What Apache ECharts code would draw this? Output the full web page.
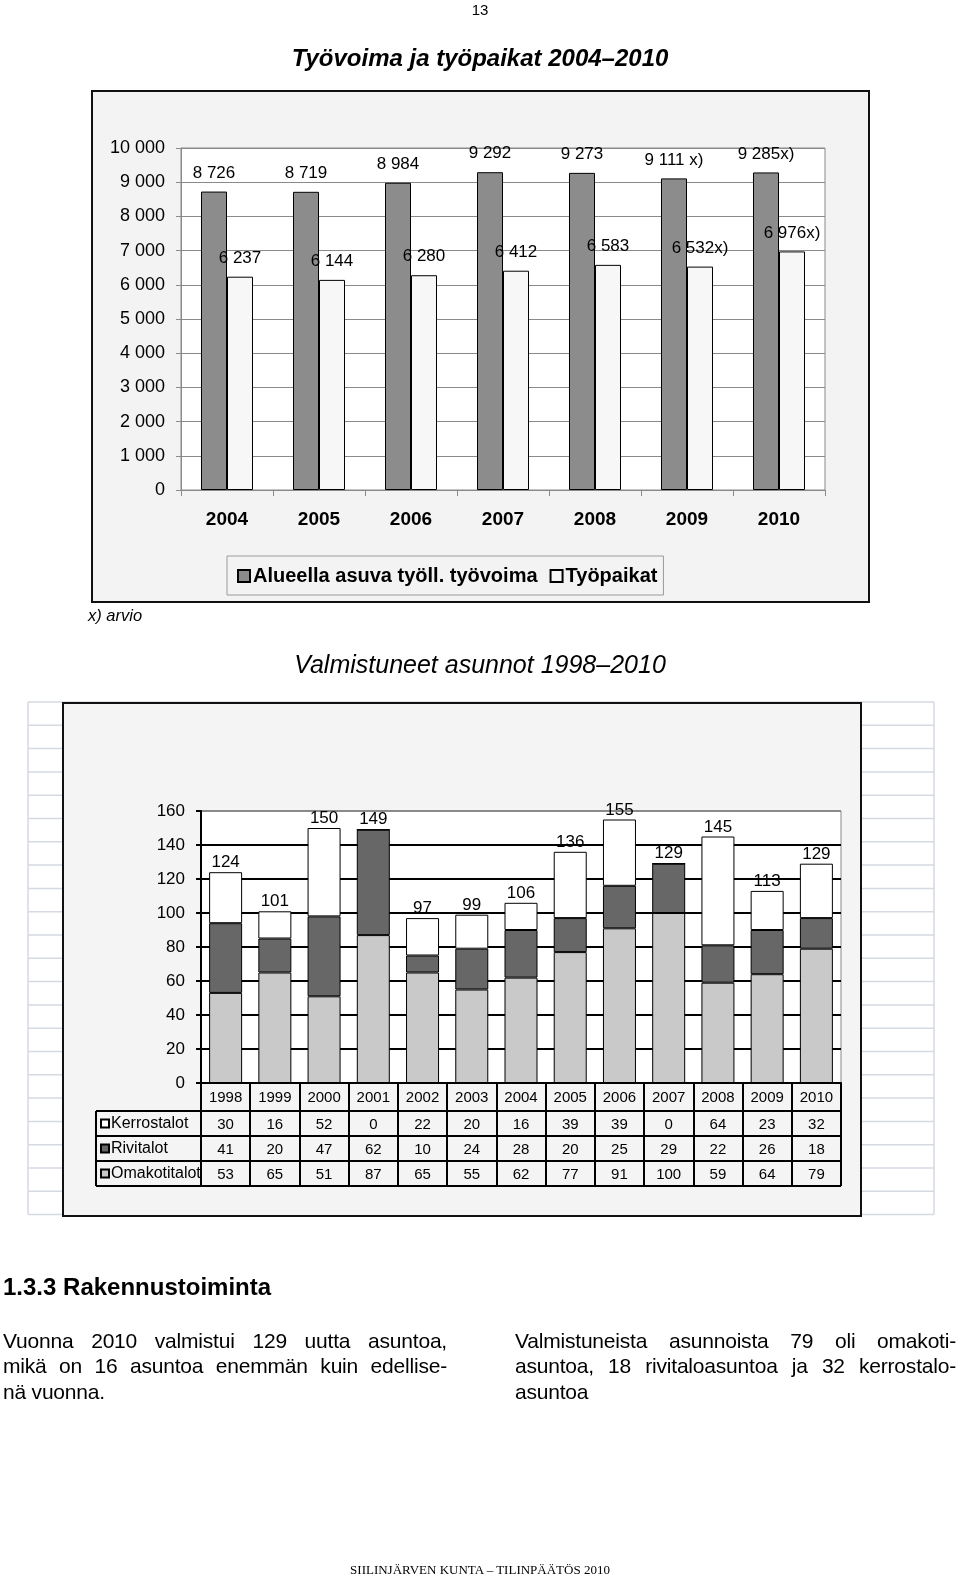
<!DOCTYPE html>
<html>
<head>
<meta charset="utf-8">
<script src="https://cdn.jsdelivr.net/npm/echarts@6/dist/echarts.min.js"></script>
<style>
  html, body { margin: 0; padding: 0; background: #fff; }
  body { width: 960px; height: 1581px; position: relative; overflow: hidden; font-family: "Liberation Sans", Arial, sans-serif; color: #000; }
  #chart { position: absolute; left: 0; top: 0; width: 960px; height: 1581px; }
  .t { position: absolute; white-space: nowrap; z-index: 2; line-height: 1; }
  .col { position: absolute; z-index: 2; font-size: 21px; line-height: 25.3px; letter-spacing: -0.2px; }
  .ln { text-align: justify; text-align-last: justify; white-space: nowrap; }
  .ln.last { text-align-last: left; }
</style>
</head>
<body>
<div id="chart"></div>
<div class="t" style="left:0;width:960px;text-align:center;top:2px;font-size:15px;">13</div>
<div class="t" style="left:0;width:960px;text-align:center;top:46px;font-size:24px;font-weight:bold;font-style:italic;">Työvoima ja työpaikat 2004–2010</div>
<div class="t" style="left:88px;top:607px;font-size:16.5px;font-style:italic;">x) arvio</div>
<div class="t" style="left:0;width:960px;text-align:center;top:652px;font-size:25px;font-style:italic;">Valmistuneet asunnot 1998–2010</div>
<div class="t" style="left:3px;top:1275px;font-size:24px;font-weight:bold;">1.3.3 Rakennustoiminta</div>
<div class="col" style="left:3px;top:1328px;width:444px;">
  <div class="ln">Vuonna 2010 valmistui 129 uutta asuntoa,</div>
  <div class="ln">mikä on 16 asuntoa enemmän kuin edellise-</div>
  <div class="ln last">nä vuonna.</div>
</div>
<div class="col" style="left:515px;top:1328px;width:441px;">
  <div class="ln">Valmistuneista asunnoista 79 oli omakoti-</div>
  <div class="ln">asuntoa, 18 rivitaloasuntoa ja 32 kerrostalo-</div>
  <div class="ln last">asuntoa</div>
</div>
<div class="t" style="left:0;width:960px;text-align:center;top:1563px;font-size:13px;font-family:'Liberation Serif','DejaVu Serif',serif;">SIILINJÄRVEN KUNTA – TILINPÄÄTÖS 2010</div>
<script>
// ---- Data: chart 1 ----
const years1 = ['2004', '2005', '2006', '2007', '2008', '2009', '2010'];
const workforce = [8726, 8719, 8984, 9292, 9273, 9111, 9285];
const jobs = [6237, 6144, 6280, 6412, 6583, 6532, 6976];
const workforceLabels = ['8 726', '8 719', '8 984', '9 292', '9 273', '9 111 x)', '9 285x)'];
const jobsLabels = ['6 237', '6 144', '6 280', '6 412', '6 583', '6 532x)', '6 976x)'];
const seriesNames1 = ['Alueella asuva työll. työvoima', 'Työpaikat'];

// ---- Data: chart 2 ----
const years2 = ['1998', '1999', '2000', '2001', '2002', '2003', '2004', '2005', '2006', '2007', '2008', '2009', '2010'];
const kerrostalot = [30, 16, 52, 0, 22, 20, 16, 39, 39, 0, 64, 23, 32];
const rivitalot = [41, 20, 47, 62, 10, 24, 28, 20, 25, 29, 22, 26, 18];
const omakotitalot = [53, 65, 51, 87, 65, 55, 62, 77, 91, 100, 59, 64, 79];
const rowNames = ['Kerrostalot', 'Rivitalot', 'Omakotitalot'];
const totals = years2.map((_, i) => kerrostalot[i] + rivitalot[i] + omakotitalot[i]);

// ---- Layout ----
const G1 = { left: 181, top: 148, width: 644, height: 342 };
const G2 = { left: 201, top: 811, width: 640, height: 272 };
const G2bottom = G2.top + G2.height;
const yearRowH = 28, rowH = 25;
const tableLeft = 96;
const tableBottom = G2bottom + yearRowH + 3 * rowH;
const colors2 = { Kerrostalot: '#ffffff', Rivitalot: '#676767', Omakotitalot: '#c9c9c9' };

const fmtThousands = v => String(v).replace(/\B(?=(\d{3})+(?!\d))/g, ' ');

const graphics = [];
// top chart box
graphics.push({ type: 'rect', z: -100, shape: { x: 92, y: 91, width: 777, height: 511 },
  style: { fill: '#f3f3f3', stroke: '#111', lineWidth: 2 } });
// spreadsheet-like background for chart 2
const sheetTop = 702, sheetStep = 23.3;
for (let k = 0; k <= 22; k++) {
  const y = sheetTop + k * sheetStep;
  graphics.push({ type: 'line', z: -120, shape: { x1: 28, y1: y, x2: 934, y2: y },
    style: { stroke: '#d5dae2', lineWidth: 1.5 } });
}
graphics.push({ type: 'line', z: -120, shape: { x1: 28, y1: sheetTop, x2: 28, y2: sheetTop + 22 * sheetStep }, style: { stroke: '#d5dae2', lineWidth: 1.5 } });
graphics.push({ type: 'line', z: -120, shape: { x1: 934, y1: sheetTop, x2: 934, y2: sheetTop + 22 * sheetStep }, style: { stroke: '#d5dae2', lineWidth: 1.5 } });
// chart 2 box
graphics.push({ type: 'rect', z: -100, shape: { x: 63, y: 703, width: 798, height: 513 },
  style: { fill: '#f4f4f4', stroke: '#111', lineWidth: 2 } });
// table lines
const hy = [G2bottom + yearRowH, G2bottom + yearRowH + rowH, G2bottom + yearRowH + 2 * rowH, tableBottom];
hy.forEach(y => graphics.push({ type: 'line', z: 100, shape: { x1: tableLeft, y1: y, x2: G2.left + G2.width, y2: y },
  style: { stroke: '#000', lineWidth: 2 } }));
graphics.push({ type: 'line', z: 100, shape: { x1: tableLeft, y1: hy[0], x2: tableLeft, y2: tableBottom },
  style: { stroke: '#000', lineWidth: 2 } });
rowNames.forEach((n, r) => {
  const cy = hy[0] + rowH * r + rowH / 2;
  graphics.push({ type: 'rect', z: 100, shape: { x: tableLeft + 5, y: cy - 4, width: 8, height: 8 },
    style: { fill: colors2[n], stroke: '#000', lineWidth: 2 } });
  graphics.push({ type: 'text', z: 100, x: tableLeft + 15, y: cy,
    style: { text: n, fontSize: 16, fontFamily: 'Liberation Sans, Arial', fill: '#000', textVerticalAlign: 'middle', verticalAlign: 'middle' } });
});

const baseFont = 'Liberation Sans, Arial, sans-serif';
const splitColors2 = ['#000', '#000', '#000', '#000', '#000', '#000', '#000', '#000', '#8a8a8a'];

const option = {
  animation: false,
  textStyle: { fontFamily: baseFont },
  graphic: { elements: graphics },
  legend: {
    data: seriesNames1, left: 227, top: 556,
    backgroundColor: '#f3f3f3', borderColor: '#9a9a9a', borderWidth: 1,
    padding: [10, 6, 9, 10], itemWidth: 12, itemHeight: 12, itemGap: 12, icon: 'rect',
    textStyle: { fontSize: 20, fontWeight: 'bold', color: '#000', fontFamily: baseFont, padding: [0, 0, 0, -2] }
  },
  grid: [
    Object.assign({ show: true, backgroundColor: '#ffffff', borderColor: '#8a8a8a', borderWidth: 1 }, G1),
    Object.assign({ show: true, backgroundColor: '#ffffff', borderColor: '#8a8a8a', borderWidth: 1 }, G2)
  ],
  xAxis: [
    { type: 'category', gridIndex: 0, data: years1,
      axisLine: { lineStyle: { color: '#8a8a8a', width: 1 } },
      axisTick: { show: true, length: 6, lineStyle: { color: '#8a8a8a' } },
      axisLabel: { fontSize: 19, fontWeight: 'bold', color: '#000', margin: 20 } },
    { type: 'category', gridIndex: 1, data: years2,
      axisLine: { lineStyle: { color: '#000', width: 2 } },
      axisTick: { show: true, length: tableBottom - G2bottom, lineStyle: { color: '#000', width: 2 } },
      axisLabel: { fontSize: 15, color: '#000', margin: 7 } },
    { type: 'category', gridIndex: 1, data: years2, position: 'bottom', offset: 27,
      axisLine: { show: false }, axisTick: { show: false },
      axisLabel: { fontSize: 15, color: '#000', margin: 7, formatter: (v, i) => String(kerrostalot[i]) } },
    { type: 'category', gridIndex: 1, data: years2, position: 'bottom', offset: 52,
      axisLine: { show: false }, axisTick: { show: false },
      axisLabel: { fontSize: 15, color: '#000', margin: 7, formatter: (v, i) => String(rivitalot[i]) } },
    { type: 'category', gridIndex: 1, data: years2, position: 'bottom', offset: 77,
      axisLine: { show: false }, axisTick: { show: false },
      axisLabel: { fontSize: 15, color: '#000', margin: 7, formatter: (v, i) => String(omakotitalot[i]) } }
  ],
  yAxis: [
    { type: 'value', gridIndex: 0, min: 0, max: 10000, interval: 1000,
      axisLine: { show: true, lineStyle: { color: '#8a8a8a' } },
      axisTick: { show: true, length: 5, lineStyle: { color: '#8a8a8a' } },
      splitLine: { lineStyle: { color: '#8a8a8a', width: 1 } },
      axisLabel: { fontSize: 18, color: '#000', margin: 16, formatter: fmtThousands } },
    { type: 'value', gridIndex: 1, min: 0, max: 160, interval: 20,
      axisLine: { show: true, lineStyle: { color: '#000', width: 2 } },
      axisTick: { show: true, length: 5, lineStyle: { color: '#000', width: 2 } },
      splitLine: { lineStyle: { color: splitColors2, width: 2 } },
      axisLabel: { fontSize: 17, color: '#000', margin: 16 } }
  ],
  series: [
    { name: seriesNames1[0], type: 'bar', xAxisIndex: 0, yAxisIndex: 0, data: workforce,
      barWidth: 26, barGap: '0%',
      itemStyle: { color: '#8c8c8c', borderColor: '#000', borderWidth: 1 },
      label: { show: true, position: 'top', distance: 10, fontSize: 17, color: '#000',
        formatter: p => workforceLabels[p.dataIndex] } },
    { name: seriesNames1[1], type: 'bar', xAxisIndex: 0, yAxisIndex: 0, data: jobs,
      barWidth: 26, barGap: '0%',
      itemStyle: { color: '#f7f7f7', borderColor: '#000', borderWidth: 1 },
      label: { show: true, position: 'top', distance: 10, fontSize: 17, color: '#000',
        formatter: p => jobsLabels[p.dataIndex] } },
    { name: 'Omakotitalot', type: 'bar', stack: 'h', xAxisIndex: 1, yAxisIndex: 1, data: omakotitalot,
      barWidth: 33, itemStyle: { color: colors2.Omakotitalot, borderColor: '#000', borderWidth: 1 } },
    { name: 'Rivitalot', type: 'bar', stack: 'h', xAxisIndex: 1, yAxisIndex: 1, data: rivitalot,
      barWidth: 33, itemStyle: { color: colors2.Rivitalot, borderColor: '#000', borderWidth: 1 } },
    { name: 'Kerrostalot', type: 'bar', stack: 'h', xAxisIndex: 1, yAxisIndex: 1, data: kerrostalot,
      barWidth: 33, itemStyle: { color: colors2.Kerrostalot, borderColor: '#000', borderWidth: 1 },
      label: { show: true, position: 'top', distance: 1, fontSize: 17, color: '#000',
        formatter: p => String(totals[p.dataIndex]) } }
  ]
};

const chart = echarts.init(document.getElementById('chart'), null, { renderer: 'canvas' });
chart.setOption(option);
</script>
</body>
</html>
